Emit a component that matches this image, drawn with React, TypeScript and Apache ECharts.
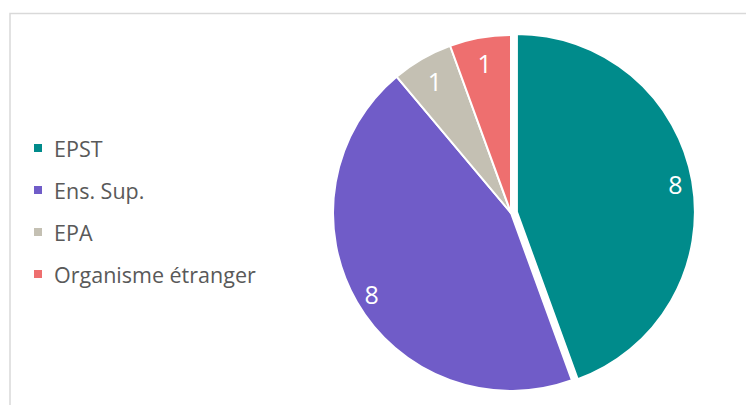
import React, { useEffect, useRef } from "react";
import * as echarts from "echarts";

const categories = ["EPST", "Ens. Sup.", "EPA", "Organisme étranger"];
const values = [8, 8, 1, 1];
const colors = ["#008B8B", "#705CC8", "#C4C0B3", "#EE6F6F"];

const FONT = "'Open Sans', 'Noto Sans', sans-serif";

export default function App() {
  const ref = useRef<HTMLDivElement>(null);
  useEffect(() => {
    if (!ref.current) return;
    const chart = echarts.init(ref.current, null, { renderer: "svg" });
    const center = [511, 213];
    const baseData = categories.map((name, i) => ({
      name,
      value: values[i],
      selected: i === 0,
      itemStyle: { color: colors[i] },
    }));
    const labelData = (big: boolean) =>
      categories.map((name, i) => ({
        name,
        value: values[i],
        selected: i === 0,
        label: { show: big ? values[i] > 1 : values[i] <= 1 },
      }));
    const labelSeries = (big: boolean, r0: number) => ({
      type: "pie",
      center,
      radius: [r0, 176],
      startAngle: 90,
      clockwise: true,
      selectedMode: "single",
      selectedOffset: 6,
      silent: true,
      legendHoverLink: false,
      itemStyle: { color: "rgba(0,0,0,0)", borderWidth: 0 },
      label: {
        show: true,
        position: "inside",
        formatter: "{c}",
        color: "#ffffff",
        fontSize: 25,
        fontFamily: FONT,
      },
      labelLine: { show: false },
      emphasis: { disabled: true },
      data: labelData(big),
    });
    chart.setOption({
      animation: false,
      graphic: [
        {
          type: "rect",
          shape: { x: 10, y: 13.5, width: 760, height: 420 },
          style: { fill: "none", stroke: "#D9D9D9", lineWidth: 1.5 },
          silent: true,
        },
      ],
      legend: {
        orient: "vertical",
        left: 27,
        top: 132,
        itemWidth: 10,
        itemHeight: 10,
        itemGap: 20,
        icon: "rect",
        data: categories,
        selectedMode: false,
        textStyle: {
          fontSize: 21.5,
          color: "#595959",
          fontFamily: FONT,
          lineHeight: 21,
          padding: [0, 0, 0, 6],
        },
      },
      series: [
        {
          type: "pie",
          center,
          radius: [0, 178],
          startAngle: 90,
          clockwise: true,
          selectedMode: "single",
          selectedOffset: 6,
          itemStyle: { borderColor: "#ffffff", borderWidth: 2 },
          label: { show: false },
          labelLine: { show: false },
          emphasis: { disabled: true },
          data: baseData,
        },
        labelSeries(true, 140),
        labelSeries(false, 122),
      ],
    });
    return () => chart.dispose();
  }, []);
  return (
    <div
      ref={ref}
      style={{ position: "fixed", left: 0, top: 0, width: 746, height: 405, background: "#fff" }}
    />
  );
}
